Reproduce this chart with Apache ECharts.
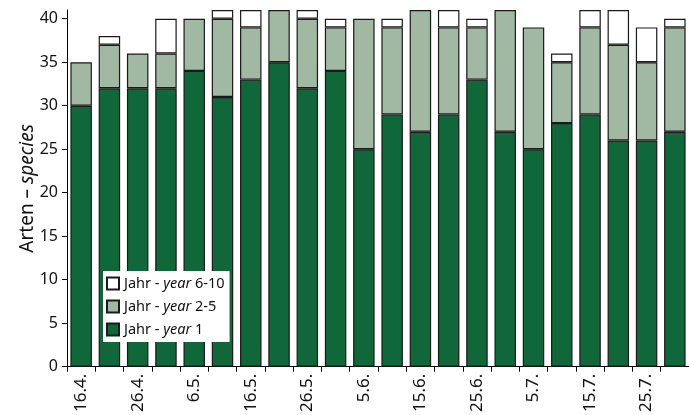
<!DOCTYPE html>
<html><head><meta charset="utf-8">
<script src="https://cdn.jsdelivr.net/npm/echarts@6/dist/echarts.min.js"></script>
<style>html,body{margin:0;padding:0;background:#fff}#c{width:689px;height:415px}</style>
</head><body><div id="c"></div>
<script>
const categories = ['16.4.','21.4.','26.4.','1.5.','6.5.','11.5.','16.5.','21.5.','26.5.','31.5.','5.6.','10.6.','15.6.','20.6.','25.6.','30.6.','5.7.','10.7.','15.7.','20.7.','25.7.','30.7.'];
const year1   = [30,32,32,32,34,31,33,35,32,34,25,29,27,29,33,27,25,28,29,26,26,27];
const year2_5 = [5,5,4,4,6,9,6,6,8,5,15,10,14,10,6,14,14,7,10,11,9,12];
const year6_10= [0,1,0,4,0,1,2,0,1,1,0,1,0,2,1,0,0,1,2,4,4,1];
const yTicks = [0,5,10,15,20,25,30,35,40];

const FONT = 'Noto Sans';
const chart = echarts.init(document.getElementById('c'), null, {renderer:'canvas'});
const border = {borderColor:'#1a1a1a', borderWidth:1.2};
const nz = a => a.map(v => v === 0 ? null : v);
chart.setOption({
  animation:false,
  textStyle:{fontFamily:FONT},
  grid:{left:67, right:0, top:10, bottom:44, containLabel:false},
  legend:{
    left:103, top:271, orient:'vertical', itemGap:8, itemWidth:12, itemHeight:12, icon:'rect',
    backgroundColor:'#fff', padding:[5,5,5,3],
    data:['6-10','2-5','1'],
    formatter: n => '{a|Jahr - }{b|year}{a| ' + n + '}',
    textStyle:{fontFamily:FONT, color:'#111', rich:{a:{fontSize:14.5,fontFamily:FONT,color:'#111'}, b:{fontSize:14.5,fontStyle:'italic',fontFamily:FONT,color:'#111'}}}
  },
  xAxis:{
    type:'category', data:categories, boundaryGap:true,
    axisLine:{lineStyle:{color:'#000', width:1}},
    axisTick:{show:true, alignWithLabel:false, length:5, lineStyle:{color:'#000'}, interval:0},
    axisLabel:{rotate:90, interval:1, fontSize:17, color:'#111', margin:7, fontFamily:FONT}
  },
  yAxis:{
    type:'value', min:0, max:41,
    name:'{a|Arten – }{b|species}', nameLocation:'middle', nameGap:30, nameMoveOverlap:false,
    nameTextStyle:{rich:{a:{fontSize:19,fontFamily:FONT,color:'#111'}, b:{fontSize:19,fontStyle:'italic',fontFamily:FONT,color:'#111'}}},
    axisLine:{show:true, lineStyle:{color:'#000', width:1}},
    axisTick:{show:true, length:5, lineStyle:{color:'#000'}, customValues:yTicks},
    axisLabel:{fontSize:16, color:'#111', margin:9, customValues:yTicks, fontFamily:FONT},
    splitLine:{show:false}
  },
  series:[
    {name:'1', type:'bar', stack:'s', data:nz(year1), barCategoryGap:'24%', itemStyle:Object.assign({color:'#10673a'}, border)},
    {name:'2-5', type:'bar', stack:'s', data:nz(year2_5), itemStyle:Object.assign({color:'#a1b8a2'}, border)},
    {name:'6-10', type:'bar', stack:'s', data:nz(year6_10), itemStyle:Object.assign({color:'#ffffff'}, border)}
  ]
});
</script></body></html>
